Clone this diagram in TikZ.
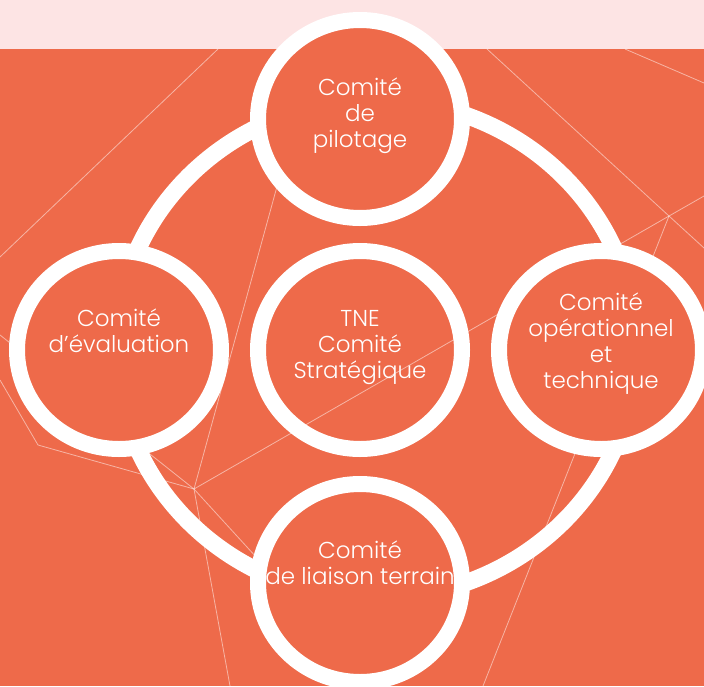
\documentclass[tikz,border=0pt]{standalone}
\usepackage{fontspec}
\setmainfont{Poppins}[UprightFont={* Light}]
\usetikzlibrary{shapes.geometric}
\definecolor{brique}{HTML}{EE6A4A}
\definecolor{rosepale}{HTML}{FDE4E4}
\tikzset{
  comite/.style={ellipse, draw=white, line width=16pt, fill=brique, minimum width=204pt, minimum height=198pt, inner sep=0pt},
  centre/.style={comite, fill=none},
  lbl/.style={text=white, align=center, inner sep=0pt, font=\fontsize{23}{26}\selectfont},
  trait/.style={white, opacity=0.5, line width=0.8pt},
  anneau/.style={white, line width=17pt}}

\begin{document}
\begin{tikzpicture}[x=1pt, y=-1pt]
  \useasboundingbox (0,0) rectangle (704,686);
  \fill[brique] (0,49) rectangle (704,686);
  \fill[rosepale] (0,0) rectangle (704,49);
  \coordinate (n1) at (194,489); \coordinate (n2) at (38,445); \coordinate (n3) at (669,216);
  \coordinate (a1) at (218,49); \coordinate (a2) at (0,257); \coordinate (b1) at (287,150);
  \coordinate (c1) at (704,196); \coordinate (d1) at (0,335); \coordinate (e1) at (487,49);
  \coordinate (e2) at (704,248); \coordinate (f1) at (625,49); \coordinate (f2) at (704,83);
  \coordinate (g1) at (483,686); \coordinate (h1) at (0,380); \coordinate (k1) at (268,570);
  \coordinate (m1) at (230,686);
  \draw[trait] (a1) -- (a2); \draw[trait] (b1) -- (n1); \draw[trait] (n1) -- (n3) -- (c1);
  \draw[trait] (d1) -- (n1); \draw[trait] (e1) -- (n3) -- (e2); \draw[trait] (f1) -- (f2);
  \draw[trait] (n3) -- (g1); \draw[trait] (h1) -- (n2) -- (n1); \draw[trait] (n1) -- (k1);
  \draw[trait] (n1) -- (m1);
  \draw[anneau] (376,349) ellipse [x radius=260, y radius=249];
  \node[centre] (tne) at (360,350) {};
  \node[comite] (pil) at (360,119) {};
  \node[comite] (eva) at (119,350) {};
  \node[comite] (ope) at (601,350) {};
  \node[comite] (lia) at (360,583) {};
  \node[lbl] (tpil) at (360,115.5) {Comité\\de\\pilotage};
  \node[lbl] (teva) at (119,330.8) {Comité\\d’évaluation};
  \node[lbl] (ttne) at (360,347.1) {TNE\\Comité\\Stratégique};
  \node[lbl] (tope) at (601,343.5) {Comité\\opérationnel\\et\\technique};
  \node[lbl] (tlia) at (360,562.3) {Comité\\de liaison terrain};
\end{tikzpicture}
\end{document}
